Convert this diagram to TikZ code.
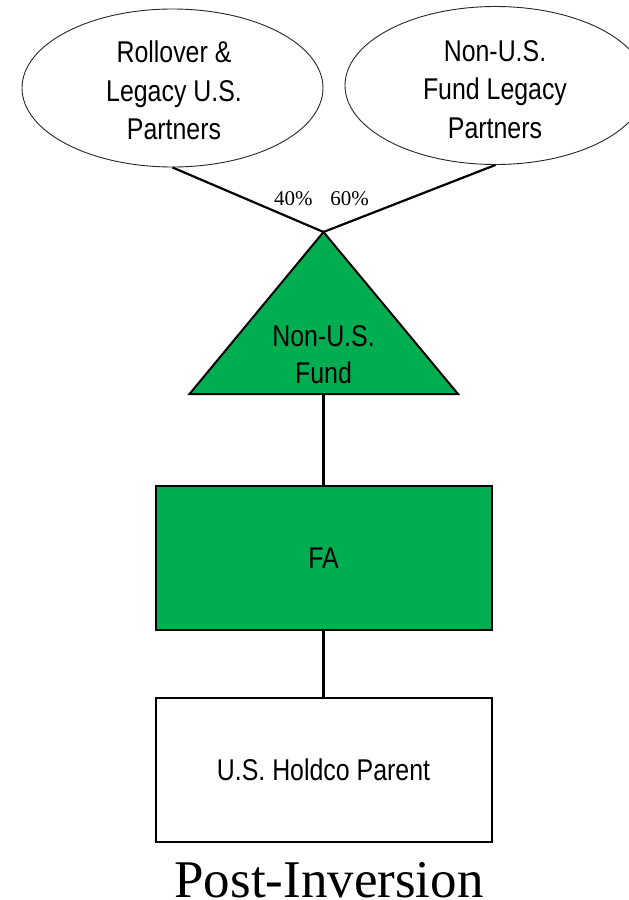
\documentclass[tikz,border=0pt]{standalone}
\usepackage{fontspec}
\setmainfont{Liberation Serif}
\newfontfamily\boxfont[FakeStretch=0.83]{Liberation Sans}
\usetikzlibrary{shapes.geometric}
\definecolor{fundgreen}{RGB}{0,173,80}
\begin{document}
\begin{tikzpicture}[x=1pt,y=-1pt,
  partner/.style={ellipse, draw=black!85, line width=0.9pt,
    minimum width=301pt, minimum height=158pt, inner sep=0pt},
  boxtext/.style={align=center, inner sep=0pt,
    font=\boxfont\fontsize{30}{38.5}\selectfont},
  entity/.style={rectangle, draw=black, line width=2pt,
    minimum width=336pt, minimum height=143.5pt, inner sep=0pt,
    font=\boxfont\fontsize{30}{36}\selectfont},
  link/.style={draw=black, line width=2.2pt},
  pct/.style={font=\fontsize{21}{24}\selectfont, anchor=base, inner sep=0pt}]
\clip (0,0) rectangle (629,900);
\fill[white] (0,0) rectangle (629,900);

% partner groups
\node[partner] (rollover) at (172.5,88) {};
\node[boxtext] (rollovertxt) at (174,90.6) {Rollover \&\\Legacy U.S.\\Partners};
\node[partner] (nonus) at (495.5,85.5) {};
\node[boxtext] (nonustxt) at (495,89.5) {Non-U.S.\\Fund Legacy\\Partners};

% fund triangle
\coordinate (apex) at (323.5,232);
\coordinate (baseL) at (189.5,394);
\coordinate (baseR) at (458,394);
\coordinate (basemid) at (323.5,394);

\draw[link] (rollover.south) -- (apex);
\draw[link] (nonus.south) -- (apex);
\node[pct] (pleft) at (293.3,205) {40\%};
\node[pct] (pright) at (349.7,205) {60\%};

\filldraw[fill=fundgreen, draw=black, line width=2pt] (apex) -- (baseR) -- (baseL) -- cycle;
\node[boxtext, font=\boxfont\fontsize{30}{37.5}\selectfont] (fundtxt) at (323.5,354.7) {Non-U.S.\\Fund};

% entities
\node[entity, fill=fundgreen] (fa) at (323.5,558) {FA};
\node[entity, fill=white] (parent) at (323.5,770) {U.S. Holdco Parent};

\draw[link] (basemid) -- (fa.north);
\draw[link] (fa.south) -- (parent.north);

\node[font=\fontsize{53}{60}\selectfont, anchor=base, inner sep=0pt] (caption) at (329,897) {Post-Inversion};
\end{tikzpicture}
\end{document}
